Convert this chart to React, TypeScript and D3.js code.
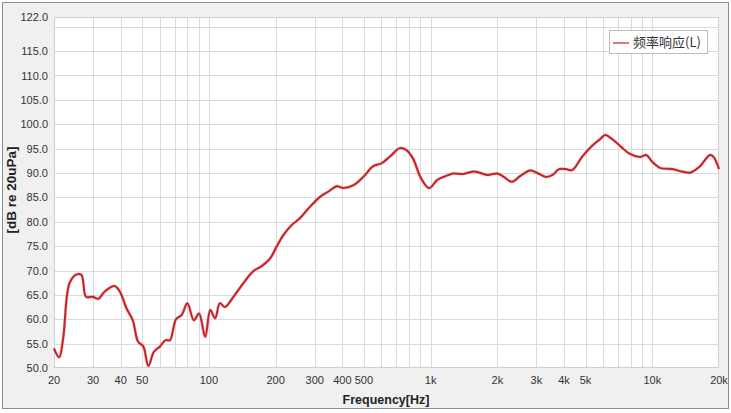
import * as d3 from 'd3';
import React from 'react';

// frequency response, left channel
const freqs = [
  20, 21.1, 22, 23.5, 25.3, 26.6, 27.9, 29.9, 31.7, 33.9, 37.5, 39.6, 42.5, 45.3, 47.9, 50.6,
  53.3, 56.4, 60.1, 63.7, 66.7, 71, 75.4, 79.9, 85.5, 90.2, 96.2, 101.4, 106.7, 112, 118,
  129, 143, 158, 173, 189, 202, 217, 236, 257, 286, 317, 346, 378, 405, 449, 497, 551, 602,
  667, 726, 778, 832, 906, 986, 1073, 1190, 1263, 1400, 1580, 1805, 2000, 2140, 2330, 2540,
  2810, 3000, 3320, 3550, 3800, 4070, 4350, 4820, 5330, 5800, 6140, 6530, 7220, 7930, 8800,
  9400, 9990, 10900, 12300, 13600, 14900, 16350, 18200, 18900, 20000,
];
const levels = [
  54.0, 52.2, 56.1, 67.4, 69.2, 69.1, 64.6, 64.6, 64.2, 65.7, 66.8, 65.7, 62.2, 59.8, 55.4, 54.4,
  50.4, 53.3, 54.4, 55.7, 55.7, 60.0, 60.9, 63.3, 59.8, 61.2, 56.4, 61.9, 60.2, 63.3, 62.5,
  64.6, 67.4, 69.8, 70.9, 72.5, 74.9, 77.3, 79.3, 80.7, 83.1, 85.1, 86.2, 87.3, 86.9, 87.5, 89.2, 91.4, 92.0,
  93.7, 95.1, 94.7, 93.0, 88.9, 86.9, 88.6, 89.5, 89.9, 89.8, 90.3, 89.6, 89.9, 89.2, 88.2, 89.4,
  90.5, 90.1, 89.2, 89.6, 90.8, 90.8, 90.6, 93.3, 95.5, 96.9, 97.8, 97.1, 95.4, 93.9, 93.3,
  93.7, 92.3, 91.0, 90.8, 90.3, 90.1, 91.3, 93.7, 93.3, 90.8,
];

const yTicks = [50, 55, 60, 65, 70, 75, 80, 85, 90, 95, 100, 105, 110, 115, 122];
const yGrid = [55, 60, 65, 70, 75, 80, 85, 90, 95, 100, 105, 110, 115, 120];
const xTicks = [20, 30, 40, 50, 100, 200, 300, 400, 500, 1000, 2000, 3000, 4000, 5000, 10000, 20000];
const xTickLabels = ['20', '30', '40', '50', '100', '200', '300', '400', '500', '1k', '2k', '3k', '4k', '5k', '10k', '20k'];
const seriesName = '频率响应(L)';

const W = 731;
const H = 413;
const plot = { left: 54, top: 17, right: 719, bottom: 368 };
const font = '"Liberation Sans", Arial, sans-serif';

export default function App() {
  const x = d3.scaleLog().domain([20, 20000]).range([plot.left, plot.right]);
  const y = d3.scaleLinear().domain([50, 122]).range([plot.bottom, plot.top]);

  // minor grid: every 1..9 step of each decade
  const xGrid: number[] = [];
  [10, 100, 1000, 10000].forEach(dec => {
    for (let k = 1; k <= 9; k++) {
      const f = dec * k;
      if (f > 20 && f < 20000) xGrid.push(f);
    }
  });

  const points = freqs.map((f, i) => [f, levels[i]] as [number, number]);
  const line = d3.line<[number, number]>()
    .x(d => x(d[0]))
    .y(d => y(d[1]))
    .curve(d3.curveCatmullRom.alpha(0.5));

  return (
    <svg width={W} height={H} style={{ position: 'absolute', left: 0, top: 0 }} fontFamily={font}>
      <rect x={0} y={0} width={W} height={H} fill="#ffffff" />
      <rect x={2.5} y={2.5} width={726} height={406} fill="#f0f0f0" stroke="#8c8c8c" strokeWidth={1} />
      <rect x={plot.left} y={plot.top} width={plot.right - plot.left} height={plot.bottom - plot.top} fill="#ffffff" />

      {/* grid */}
      {yGrid.map(v => (
        <line key={'gy' + v} x1={plot.left} x2={plot.right} y1={Math.round(y(v)) + 0.5} y2={Math.round(y(v)) + 0.5}
          stroke="#dadada" strokeWidth={1} />
      ))}
      {xGrid.map(f => (
        <line key={'gx' + f} x1={Math.round(x(f)) + 0.5} x2={Math.round(x(f)) + 0.5} y1={plot.top} y2={plot.bottom}
          stroke="#dadada" strokeWidth={1} />
      ))}
      <rect x={plot.left + 0.5} y={plot.top + 0.5} width={plot.right - plot.left - 1} height={plot.bottom - plot.top - 1}
        fill="none" stroke="#cfcfcf" strokeWidth={1} />

      {/* y tick labels */}
      {yTicks.map(v => (
        <text key={'ty' + v} x={48} y={y(v) + 4} textAnchor="end" fontSize={11} fill="#333">
          {v.toFixed(1)}
        </text>
      ))}
      {/* x tick labels */}
      {xTicks.map((f, i) => (
        <text key={'tx' + f} x={x(f)} y={384} textAnchor="middle" fontSize={11} fill="#333">
          {xTickLabels[i]}
        </text>
      ))}

      {/* axis titles */}
      <text x={386} y={404} textAnchor="middle" fontSize={12.5} fontWeight="bold" fill="#222">Frequency[Hz]</text>
      <text transform="translate(16,190) rotate(-90)" textAnchor="middle" fontSize={13.5} fontWeight="bold" fill="#222">
        [dB re 20uPa]
      </text>

      {/* series */}
      <path d={line(points) || ''} fill="none" stroke="#f08080" strokeWidth={3.2} strokeOpacity={0.45} strokeLinejoin="round" />
      <path d={line(points) || ''} fill="none" stroke="#c4232b" strokeWidth={2} strokeLinejoin="round" />

      {/* legend */}
      <rect x={609.5} y={30.5} width={98} height={23} fill="#ffffff" stroke="#bdbdbd" strokeWidth={1} />
      <line x1={613} x2={629} y1={43} y2={43} stroke="#c4232b" strokeWidth={1.2} />
      <text x={633} y={47} fontSize={13} fill="#333" fontFamily={'"Noto Sans CJK SC", ' + font}>{seriesName}</text>
    </svg>
  );
}
